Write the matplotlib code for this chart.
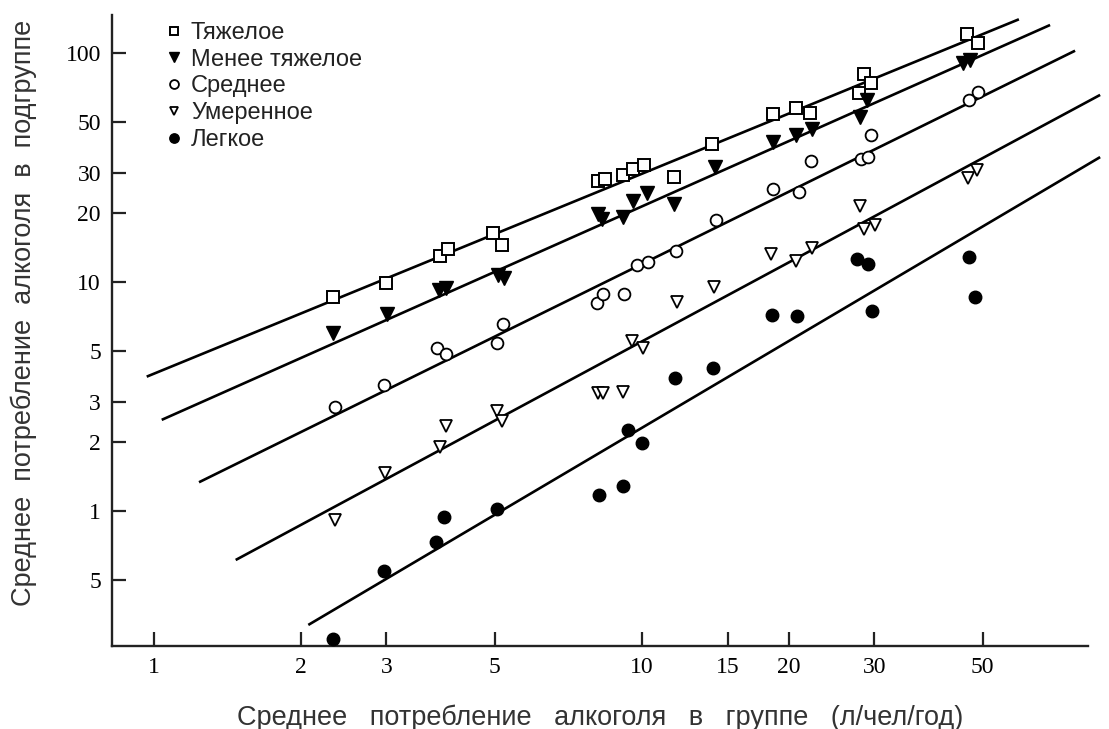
import numpy as np
import matplotlib
matplotlib.use("Agg")
import matplotlib.pyplot as plt

# ---- data: group mean (x) vs subgroup mean (y), litres per person per year ----
groups = ["Тяжелое", "Менее тяжелое", "Среднее", "Умеренное", "Легкое"]

heavy_x = [2.33, 3.00, 3.86, 4.01, 4.97, 5.17, 8.15, 8.41, 9.17, 9.59, 10.13,
           11.67, 13.96, 18.56, 20.73, 22.14, 28.56, 29.52, 27.93, 46.4, 48.8]
heavy_y = [8.63, 9.87, 12.99, 13.93, 16.32, 14.51, 27.7, 28.1, 29.3, 31.1, 32.4,
           28.8, 39.9, 54.2, 57.4, 54.5, 81.0, 73.8, 67.1, 120.7, 110.9]

less_heavy_x = [2.33, 3.01, 3.85, 3.97, 5.09, 5.22, 8.14, 8.30, 9.15, 9.59, 10.24,
                11.67, 14.14, 18.56, 20.73, 22.32, 28.03, 28.93, 45.6, 47.1]
less_heavy_y = [6.01, 7.23, 9.23, 9.39, 10.73, 10.38, 19.81, 18.84, 19.28, 22.58, 24.39,
                21.84, 31.88, 40.7, 43.9, 46.4, 52.7, 62.4, 90.7, 93.2]

medium_x = [2.35, 2.97, 3.80, 3.97, 5.05, 5.21, 8.09, 8.35, 9.22, 9.77, 10.29,
            11.75, 14.21, 18.62, 21.02, 22.24, 28.12, 29.15, 29.52, 46.9, 49.0]
medium_y = [2.84, 3.55, 5.13, 4.85, 5.40, 6.54, 8.07, 8.86, 8.86, 11.87, 12.27,
            13.70, 18.65, 25.4, 24.6, 33.8, 34.3, 35.3, 43.9, 62.4, 67.8]

moderate_x = [2.35, 2.98, 3.86, 3.97, 5.05, 5.17, 8.15, 8.35, 9.15, 9.54, 10.08,
              11.80, 14.09, 18.39, 20.73, 22.38, 28.03, 28.60, 30.08, 46.7, 48.6]
moderate_y = [0.914, 1.46, 1.91, 2.35, 2.72, 2.46, 3.29, 3.29, 3.32, 5.54, 5.13,
              8.16, 9.48, 13.25, 12.35, 14.12, 21.4, 17.0, 17.7, 28.4, 30.8]

light_x = [2.33, 2.96, 3.79, 3.94, 5.05, 8.19, 9.15, 9.39, 10.0, 11.71, 14.03,
           18.54, 20.77, 29.61, 27.60, 29.06, 46.9, 48.1]
light_y = [0.275, 0.547, 0.734, 0.944, 1.02, 1.17, 1.28, 2.26, 1.99, 3.82, 4.23,
           7.18, 7.07, 7.45, 12.64, 11.98, 12.90, 8.63]

# regression lines (log-log), given by their end points
fit_x0 = [0.968, 1.039, 1.239, 1.473, 2.075]
fit_x1 = [59.3, 68.7, 77.3, 87.0, 87.0]
fit_y0 = [3.86, 2.50, 1.335, 0.611, 0.318]
fit_y1 = [140.3, 132.5, 102.3, 65.6, 35.1]

x_ticks = [1, 2, 3, 5, 10, 15, 20, 30, 50]
x_tick_labels = ["1", "2", "3", "5", "10", "15", "20", "30", "50"]
y_ticks = [0.5, 1, 2, 3, 5, 10, 20, 30, 50, 100]
y_tick_labels = ["5", "1", "2", "3", "5", "10", "20", "30", "50", "100"]

# ---- figure ----
fig = plt.figure(figsize=(11.09, 7.29), dpi=100)
ax = fig.add_axes([112 / 1109, 1 - 646 / 729, 976 / 1109, 631 / 729])
ax.set_xscale("log")
ax.set_yscale("log")
ax.set_xlim(0.8218, 82.16)
ax.set_ylim(0.2573, 146.5)

for x0, x1, y0, y1 in zip(fit_x0, fit_x1, fit_y0, fit_y1):
    ax.plot([x0, x1], [y0, y1], color="black", lw=1.9, clip_on=False, zorder=2,
            solid_capstyle="butt")

styles = [
    dict(marker="s", mfc="white", mec="black", ms=8.5, mew=1.4),
    dict(marker="v", mfc="black", mec="black", ms=9.5, mew=1.0),
    dict(marker="o", mfc="white", mec="black", ms=8.5, mew=1.3),
    dict(marker="v", mfc="white", mec="black", ms=8, mew=1.3),
    dict(marker="o", mfc="black", mec="black", ms=9, mew=1.0),
]
series = [(heavy_x, heavy_y), (less_heavy_x, less_heavy_y), (medium_x, medium_y),
          (moderate_x, moderate_y), (light_x, light_y)]

for name, (xs, ys), st in zip(groups, series, styles):
    ax.plot(xs, ys, ls="none", label=name, clip_on=False, zorder=3, **st)

# axes styling
for side in ("top", "right"):
    ax.spines[side].set_visible(False)
for side in ("left", "bottom"):
    ax.spines[side].set_linewidth(1.7)
    ax.spines[side].set_color("#222222")

ax.xaxis.set_minor_locator(matplotlib.ticker.NullLocator())
ax.yaxis.set_minor_locator(matplotlib.ticker.NullLocator())
ax.set_xticks(x_ticks)
ax.set_xticklabels(x_tick_labels)
ax.set_yticks(y_ticks)
ax.set_yticklabels(y_tick_labels)
ax.tick_params(axis="both", direction="in", length=10, width=1.6, color="#222222",
               labelsize=17, pad=8)
for lab in ax.get_xticklabels() + ax.get_yticklabels():
    lab.set_fontfamily("Liberation Serif")

label_kw = dict(fontfamily="Liberation Sans", fontsize=19.5, color="#333333")
ax.set_xlabel("Среднее   потребление   алкоголя   в   группе   (л/чел/год)", **label_kw)
ax.set_ylabel("Среднее  потребление  алкоголя  в  подгруппе", **label_kw)
ax.xaxis.set_label_coords(0.5, (646 - 718) / 631)
ax.xaxis.label.set_verticalalignment("center")
ax.yaxis.set_label_coords((24 - 112) / 976, (646 - 313) / 631)
ax.yaxis.label.set_verticalalignment("center")

leg = ax.legend(loc="upper left", bbox_to_anchor=(163 / 1109, 1 - 22 / 729),
                bbox_transform=fig.transFigure, frameon=False, numpoints=1,
                handlelength=0.9, handletextpad=0.28, labelspacing=0.2,
                borderpad=0, borderaxespad=0, markerscale=0.75,
                prop=dict(family="Liberation Sans", size=17))
for t in leg.get_texts():
    t.set_color("#222222")

fig.savefig("out.png", dpi=100)
